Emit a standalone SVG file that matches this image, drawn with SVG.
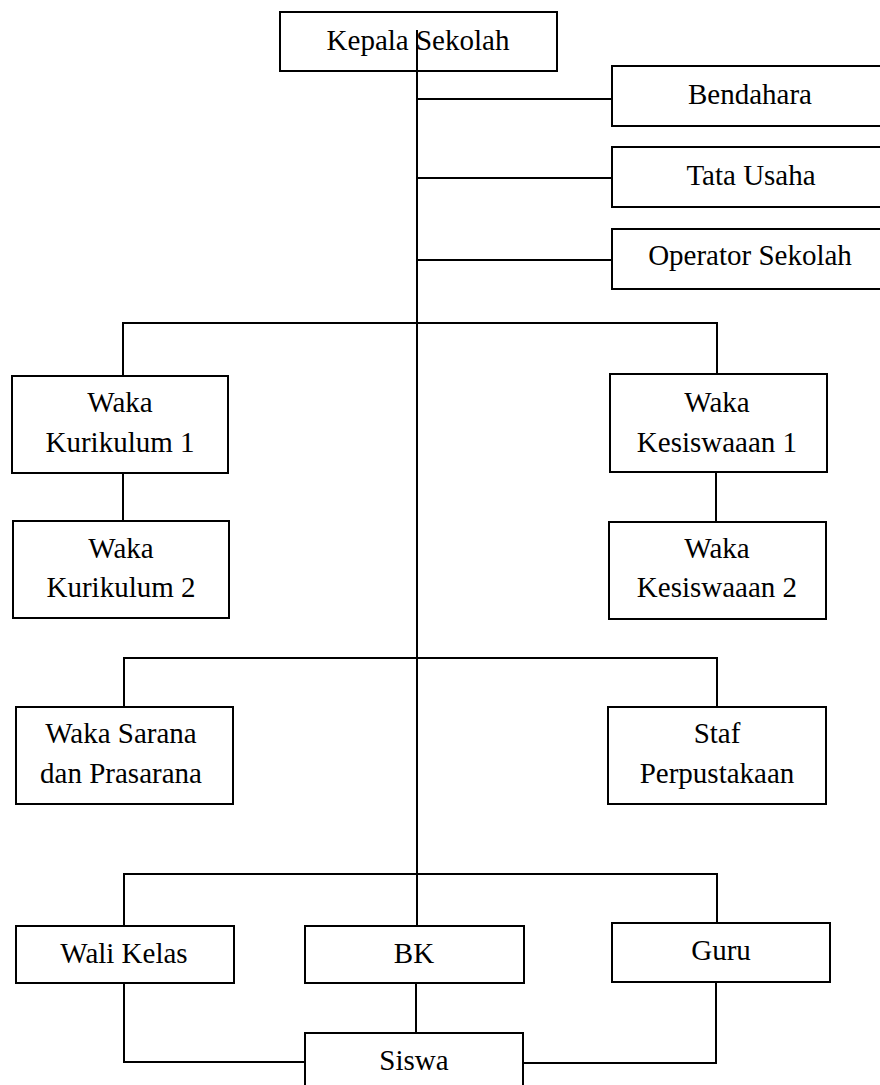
<svg xmlns="http://www.w3.org/2000/svg" width="880" height="1085" viewBox="0 0 880 1085">
<style>
.box{fill:#fff;stroke:#000;stroke-width:2}
.ln{fill:none;stroke:#000;stroke-width:2}
.t{font-family:'Liberation Serif','Times New Roman',Times,'DejaVu Serif',serif;font-size:29px;fill:#000;text-anchor:middle}
</style>
<rect width="880" height="1085" fill="#fff"/>
<g class="t" font-family="Liberation Serif, Times New Roman, serif">
<g id="n-kepala"><rect class="box" x="280" y="12" width="277" height="59"/><text x="418" y="50">Kepala Sekolah</text></g>
<g id="n-bendahara"><rect class="box" x="612" y="66" width="280" height="60"/><text x="750" y="104">Bendahara</text></g>
<g id="n-tatausaha"><rect class="box" x="612" y="147" width="280" height="60"/><text x="751" y="185">Tata Usaha</text></g>
<g id="n-operator"><rect class="box" x="612" y="229" width="280" height="60"/><text x="750" y="265">Operator Sekolah</text></g>
<g id="n-wk1"><rect class="box" x="12" y="376" width="216" height="97"/><text x="120" y="412">Waka</text><text x="120" y="452">Kurikulum 1</text></g>
<g id="n-wk2"><rect class="box" x="13" y="521" width="216" height="97"/><text x="121" y="558">Waka</text><text x="121" y="597">Kurikulum 2</text></g>
<g id="n-wkes1"><rect class="box" x="610" y="374" width="217" height="98"/><text x="717" y="412">Waka</text><text x="717" y="452">Kesiswaaan 1</text></g>
<g id="n-wkes2"><rect class="box" x="609" y="522" width="217" height="97"/><text x="717" y="558">Waka</text><text x="717" y="597">Kesiswaaan 2</text></g>
<g id="n-sarana"><rect class="box" x="16" y="707" width="217" height="97"/><text x="121" y="743">Waka Sarana</text><text x="121" y="783">dan Prasarana</text></g>
<g id="n-staf"><rect class="box" x="608" y="707" width="218" height="97"/><text x="717" y="743">Staf</text><text x="717" y="783">Perpustakaan</text></g>
<g id="n-wali"><rect class="box" x="16" y="926" width="218" height="57"/><text x="124" y="963">Wali Kelas</text></g>
<g id="n-bk"><rect class="box" x="305" y="926" width="219" height="57"/><text x="414" y="963">BK</text></g>
<g id="n-guru"><rect class="box" x="612" y="923" width="218" height="59"/><text x="721" y="960">Guru</text></g>
<g id="n-siswa"><rect class="box" x="305" y="1033" width="218" height="70"/><text x="414" y="1070">Siswa</text></g>
</g>
<g id="connectors">
<path class="ln" d="M417 30V926"/>
<path class="ln" d="M417 99H612M417 178H612M417 260H612"/>
<path class="ln" d="M123 376V323H717V374"/>
<path class="ln" d="M123 473V521M716 472V522"/>
<path class="ln" d="M124 707V658H717V707"/>
<path class="ln" d="M124 926V874H717V923"/>
<path class="ln" d="M124 983V1062H305M416 983V1033M716 982V1063H523"/>
</g>
</svg>
